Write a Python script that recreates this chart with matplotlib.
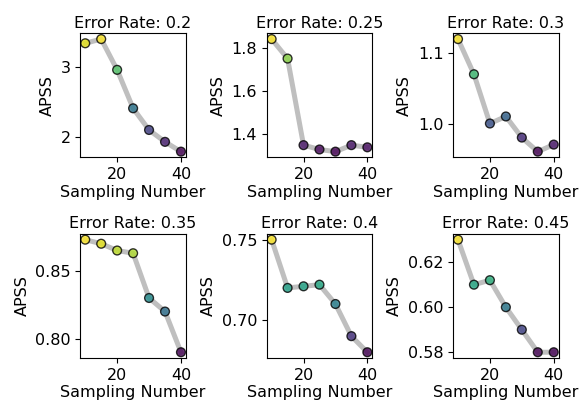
import numpy as np
import matplotlib
matplotlib.use("Agg")
import matplotlib.pyplot as plt

plt.rcParams['font.size'] = 11.5
plt.rcParams['axes.titlesize'] = 11.5

sampling_numbers = [10, 15, 20, 25, 30, 35, 40]
error_rates = [0.2, 0.25, 0.3, 0.35, 0.4, 0.45]

apss_02 = [3.34, 3.40, 2.96, 2.41, 2.10, 1.93, 1.79]
apss_025 = [1.84, 1.75, 1.35, 1.33, 1.32, 1.35, 1.34]
apss_03 = [1.12, 1.07, 1.00, 1.01, 0.98, 0.96, 0.97]
apss_035 = [0.873, 0.870, 0.865, 0.863, 0.830, 0.820, 0.790]
apss_04 = [0.750, 0.720, 0.721, 0.722, 0.710, 0.690, 0.680]
apss_045 = [0.630, 0.610, 0.612, 0.600, 0.590, 0.580, 0.580]

all_apss = [apss_02, apss_025, apss_03, apss_035, apss_04, apss_045]

fig, axes = plt.subplots(2, 3, figsize=(5.83, 4.03), dpi=100)
fig.subplots_adjust(left=0.138, right=0.958, top=0.917, bottom=0.112,
                    wspace=0.77, hspace=0.62)

for ax, er, vals in zip(axes.flat, error_rates, all_apss):
    ax.plot(sampling_numbers, vals, color='gray', alpha=0.5, linewidth=3.6, zorder=1)
    ax.scatter(sampling_numbers, vals, c=vals, cmap='viridis', s=40, alpha=0.8,
               edgecolors='black', zorder=2)
    ax.set_title(f"Error Rate: {er}", pad=4)
    ax.set_xlabel("Sampling Number", labelpad=2)
    ax.set_ylabel("APSS")

fig.savefig("out.png")
